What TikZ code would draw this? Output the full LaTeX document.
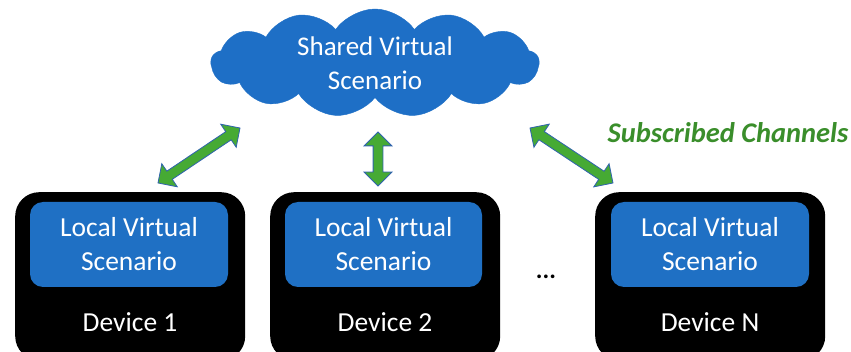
\documentclass[tikz,border=0pt]{standalone}
\usepackage{fontspec}
\setmainfont{Carlito}
\usetikzlibrary{shapes.symbols,shapes.arrows,calc}

\definecolor{cloudblue}{HTML}{1E6FC6}
\definecolor{scenblue}{HTML}{1F70C4}
\definecolor{linkgreen}{HTML}{46AA34}
\definecolor{linkedge}{HTML}{2F62AE}
\definecolor{labelgreen}{HTML}{3A8E2B}

\tikzset{
  device/.style={fill=black, rounded corners=24pt, anchor=north west, inner sep=0pt},
  scenario/.style={fill=scenblue, rounded corners=13pt, inner sep=0pt, text=white,
    align=center, font=\fontsize{27.5}{34}\selectfont},
  devlabel/.style={text=white, font=\fontsize{27.5}{34}\selectfont},
  shared/.style={cloud, cloud puffs=13, cloud puff arc=110, aspect=3, fill=cloudblue,
    draw=cloudblue, text=white, align=center, inner sep=0pt,
    font=\fontsize{27}{34}\selectfont},
  link/.style={double arrow, fill=linkgreen, draw=linkedge, line width=0.8pt,
    inner xsep=0pt, inner ysep=4.5pt, double arrow head extend=9pt,
    double arrow head indent=0pt},
  channels/.style={text=labelgreen, font=\fontsize{28.5}{32}\selectfont\bfseries\itshape},
}

% draws a two-headed link between two named points
\newcommand{\linkarrow}[2]{%
  \path let \p1=($(#2)-(#1)$), \n1={atan2(\y1,\x1)}, \n2={veclen(\x1,\y1)} in
    node[link, minimum height=\n2, rotate=\n1] at ($(#1)!0.5!(#2)$) {};}

\begin{document}
\begin{tikzpicture}[x=1pt, y=-1pt]
\useasboundingbox (0,0) rectangle (851,352);
\clip (0,0) rectangle (851,352);

% devices
\node[device, minimum width=230pt, minimum height=168pt] (dev1) at (15,192) {};
\node[device, minimum width=230pt, minimum height=168pt] (dev2) at (270,192) {};
\node[device, minimum width=230pt, minimum height=168pt] (devN) at (595,192) {};

% local scenarios
\node[scenario, minimum width=198pt, minimum height=85pt] (loc1) at (129,244.5) {Local Virtual\\Scenario};
\node[scenario, minimum width=197pt, minimum height=85pt] (loc2) at (383.5,244.5) {Local Virtual\\Scenario};
\node[scenario, minimum width=198pt, minimum height=85pt] (locN) at (710,244.5) {Local Virtual\\Scenario};

\node[devlabel] (lab1) at (130,322) {Device 1};
\node[devlabel] (lab2) at (385,322) {Device 2};
\node[devlabel] (labN) at (710,322) {Device N};

\node[font=\bfseries\fontsize{25}{25}\selectfont] (dots) at (546,277) {...};

% shared scenario
\node[shared, minimum width=328pt, minimum height=108pt] (cloud) at (375,63) {Shared Virtual\\Scenario};

% links
\coordinate (a1) at (240,128);
\coordinate (b1) at (158,183);
\coordinate (a2) at (378,132);
\coordinate (b2) at (378,186);
\coordinate (a3) at (530,128);
\coordinate (b3) at (613,183);
\linkarrow{a1}{b1}
\linkarrow{a2}{b2}
\linkarrow{a3}{b3}

\node[channels] (sub) at (728,133) {Subscribed Channels};
\end{tikzpicture}
\end{document}
